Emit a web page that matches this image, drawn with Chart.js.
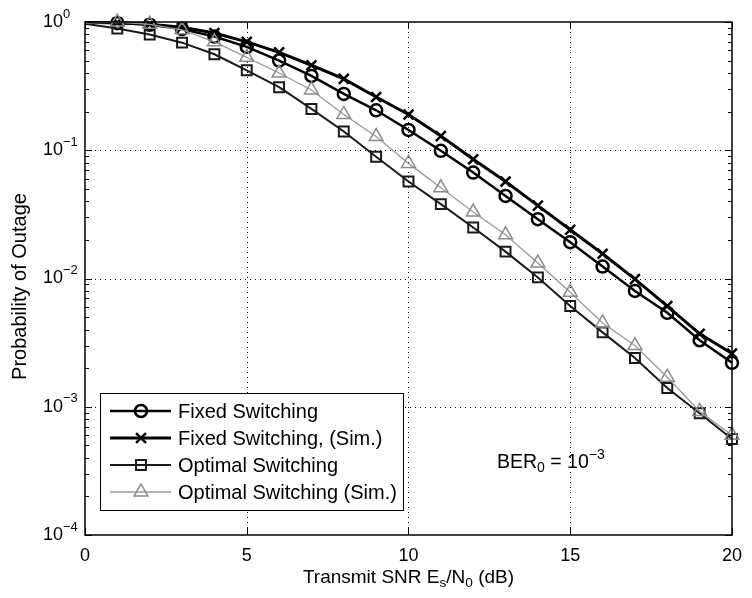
<!DOCTYPE html>
<html>
<head>
<meta charset="utf-8">
<script src="https://cdn.jsdelivr.net/npm/chart.js@4.4.0/dist/chart.umd.min.js"></script>
<style>
  html, body { margin: 0; padding: 0; background: #fff; }
</style>
</head>
<body>
<canvas id="outageChart" width="752" height="598"></canvas>
<script>
// values (x in dB, y = outage probability)
var snr = [0, 1, 2, 3, 4, 5, 6, 7, 8, 9, 10, 11, 12, 13, 14, 15, 16, 17, 18, 19, 20];
var fixedSwitching = [0.99, 0.98, 0.95, 0.88, 0.77, 0.64, 0.50, 0.38, 0.275, 0.205, 0.144, 0.099, 0.067, 0.044, 0.029, 0.0192, 0.0124, 0.0080, 0.0054, 0.0033, 0.0022];
var fixedSwitchingSim = [0.99, 0.99, 0.96, 0.91, 0.82, 0.70, 0.58, 0.46, 0.36, 0.26, 0.19, 0.129, 0.085, 0.057, 0.037, 0.024, 0.0156, 0.0099, 0.0061, 0.0037, 0.0026];
var optimalSwitching = [0.97, 0.89, 0.80, 0.69, 0.56, 0.42, 0.31, 0.21, 0.14, 0.089, 0.057, 0.038, 0.025, 0.0162, 0.0102, 0.0061, 0.0038, 0.0024, 0.0014, 0.00089, 0.00056];
var optimalSwitchingSim = [0.98, 1.0, 0.96, 0.87, 0.70, 0.53, 0.40, 0.295, 0.19, 0.128, 0.079, 0.051, 0.033, 0.0219, 0.0132, 0.0078, 0.0045, 0.0030, 0.0017, 0.00092, 0.00060];

var seriesLabels = ['Fixed Switching', 'Fixed Switching, (Sim.)', 'Optimal Switching', 'Optimal Switching (Sim.)'];
var xTicks = [0, 5, 10, 15, 20];
var yExponents = [0, -1, -2, -3, -4];

var FONT = '"Liberation Sans", Arial, sans-serif';

function toPoints(values) {
  return snr.map(function (x, i) { return { x: x, y: values[i] }; });
}

// hide the marker on the very first sample, as in the figure
function markerSize(r) {
  return function (ctx) { return ctx.dataIndex === 0 ? 0 : r; };
}

// text with a raised or lowered piece, left aligned; returns end x
function drawParts(ctx, parts, x, y, size) {
  parts.forEach(function (p) {
    var s = p.shift ? size * 0.72 : size;
    ctx.font = s + 'px ' + FONT;
    ctx.fillText(p.t, x, y + (p.shift || 0));
    x += ctx.measureText(p.t).width;
  });
  return x;
}

function partsWidth(ctx, parts, size) {
  var w = 0;
  parts.forEach(function (p) {
    ctx.font = (p.shift ? size * 0.72 : size) + 'px ' + FONT;
    w += ctx.measureText(p.t).width;
  });
  return w;
}

var matlabAxes = {
  id: 'matlabAxes',
  beforeDatasetsDraw: function (chart) {
    var ctx = chart.ctx, a = chart.chartArea;
    var xs = chart.scales.x, ys = chart.scales.y;
    ctx.save();
    ctx.strokeStyle = '#000';
    ctx.lineWidth = 1;
    ctx.setLineDash([1, 4]);
    ctx.beginPath();
    xTicks.slice(1, -1).forEach(function (v) {
      var px = Math.round(xs.getPixelForValue(v)) + 0.5;
      ctx.moveTo(px, a.top); ctx.lineTo(px, a.bottom);
    });
    yExponents.slice(1, -1).forEach(function (e) {
      var py = Math.round(ys.getPixelForValue(Math.pow(10, e))) + 0.5;
      ctx.moveTo(a.left, py); ctx.lineTo(a.right, py);
    });
    ctx.stroke();
    ctx.restore();
  },
  afterDraw: function (chart) {
    var ctx = chart.ctx, a = chart.chartArea;
    var xs = chart.scales.x, ys = chart.scales.y;
    ctx.save();
    ctx.strokeStyle = '#000';
    ctx.fillStyle = '#000';
    ctx.lineWidth = 1.5;
    ctx.strokeRect(a.left, a.top, a.right - a.left, a.bottom - a.top);

    // inward tick marks
    ctx.lineWidth = 1;
    ctx.beginPath();
    xTicks.forEach(function (v) {
      var px = Math.round(xs.getPixelForValue(v)) + 0.5;
      ctx.moveTo(px, a.bottom); ctx.lineTo(px, a.bottom - 7);
      ctx.moveTo(px, a.top); ctx.lineTo(px, a.top + 7);
    });
    yExponents.forEach(function (e) {
      for (var m = 1; m <= 9; m++) {
        var v = m * Math.pow(10, e);
        if (v > 1.0001 || v < 1e-4 * 0.999) continue;
        var py = Math.round(ys.getPixelForValue(v)) + 0.5;
        var len = m === 1 ? 7 : 4;
        ctx.moveTo(a.left, py); ctx.lineTo(a.left + len, py);
        ctx.moveTo(a.right, py); ctx.lineTo(a.right - len, py);
      }
    });
    ctx.stroke();

    // y tick labels 10^k
    ctx.textBaseline = 'middle';
    ctx.textAlign = 'left';
    yExponents.forEach(function (e) {
      var py = ys.getPixelForValue(Math.pow(10, e));
      drawParts(ctx, [{ t: '10' }, { t: e === 0 ? '0' : '\u2212' + (-e), shift: -8 }], 43, py, 18);
    });

    // axis titles
    var xTitle = [{ t: 'Transmit SNR E' }, { t: 's', shift: 5 }, { t: '/N' }, { t: '0', shift: 5 }, { t: ' (dB)' }];
    var w = partsWidth(ctx, xTitle, 19);
    drawParts(ctx, xTitle, (a.left + a.right) / 2 - w / 2, 578, 19);

    ctx.save();
    ctx.translate(20, (a.top + a.bottom) / 2 + 8);
    ctx.rotate(-Math.PI / 2);
    ctx.textAlign = 'center';
    ctx.font = '20px ' + FONT;
    ctx.fillText('Probability of Outage', 0, 0);
    ctx.restore();

    // annotation
    drawParts(ctx, [{ t: 'BER' }, { t: '0', shift: 5 }, { t: ' = 10' }, { t: '\u22123', shift: -8 }], 497, 463, 19.5);

    // legend
    var lx = 100, ly = 393, lw = 303, lh = 117;
    ctx.fillStyle = '#fff';
    ctx.fillRect(lx, ly, lw, lh);
    ctx.strokeStyle = '#000';
    ctx.lineWidth = 1;
    ctx.strokeRect(lx + 0.5, ly + 0.5, lw, lh);
    chart.data.datasets.forEach(function (ds, i) {
      var cy = 411 + i * 27;
      ctx.strokeStyle = ds.borderColor;
      ctx.lineWidth = ds.borderWidth;
      ctx.setLineDash([]);
      ctx.beginPath();
      ctx.moveTo(110, cy); ctx.lineTo(171, cy);
      ctx.stroke();
      ctx.strokeStyle = ds.pointBorderColor;
      ctx.fillStyle = 'rgba(0,0,0,0)';
      ctx.lineWidth = ds.pointBorderWidth;
      Chart.helpers.drawPoint(ctx, { pointStyle: ds.pointStyle, radius: ds.legendRadius, rotation: 0, borderWidth: ds.pointBorderWidth }, 141, cy);
      ctx.fillStyle = '#000';
      ctx.font = '20px ' + FONT;
      ctx.textBaseline = 'middle';
      ctx.fillText(ds.label, 178, cy + 1);
    });
    ctx.restore();
  }
};

var outageChart = new Chart(document.getElementById('outageChart').getContext('2d'), {
  type: 'line',
  data: {
    datasets: [{
      label: seriesLabels[0],
      data: toPoints(fixedSwitching),
      borderColor: '#000', borderWidth: 2.5,
      pointStyle: 'circle', pointRadius: markerSize(6), legendRadius: 6,
      pointBorderColor: '#000', pointBackgroundColor: 'rgba(0,0,0,0)', pointBorderWidth: 2.5,
      order: 3
    }, {
      label: seriesLabels[1],
      data: toPoints(fixedSwitchingSim),
      borderColor: '#000', borderWidth: 3,
      pointStyle: 'crossRot', pointRadius: markerSize(7), legendRadius: 7,
      pointBorderColor: '#000', pointBackgroundColor: 'rgba(0,0,0,0)', pointBorderWidth: 2.5,
      order: 2
    }, {
      label: seriesLabels[2],
      data: toPoints(optimalSwitching),
      borderColor: '#1a1a1a', borderWidth: 2,
      pointStyle: 'rect', pointRadius: markerSize(7), legendRadius: 7,
      pointBorderColor: '#1a1a1a', pointBackgroundColor: 'rgba(0,0,0,0)', pointBorderWidth: 2,
      order: 1
    }, {
      label: seriesLabels[3],
      data: toPoints(optimalSwitchingSim),
      borderColor: '#9a9a9a', borderWidth: 1.3,
      pointStyle: 'triangle', pointRadius: markerSize(8), legendRadius: 8,
      pointBorderColor: '#8c8c8c', pointBackgroundColor: 'rgba(0,0,0,0)', pointBorderWidth: 1.5,
      order: 0
    }]
  },
  options: {
    responsive: false,
    animation: false,
    events: [],
    devicePixelRatio: 1,
    layout: { padding: { top: 22, right: 14, left: 0, bottom: 0 } },
    datasets: { line: { clip: false, tension: 0, fill: false } },
    plugins: { legend: { display: false }, tooltip: { enabled: false } },
    scales: {
      x: {
        type: 'linear', min: 0, max: 20,
        ticks: {
          stepSize: 5, color: '#000', padding: 10,
          font: { family: FONT, size: 18 }
        },
        grid: { display: false, drawTicks: false },
        border: { display: false },
        afterFit: function (s) { s.height = 63; }
      },
      y: {
        type: 'logarithmic', min: 1e-4, max: 1,
        ticks: { display: false },
        grid: { display: false, drawTicks: false },
        border: { display: false },
        afterFit: function (s) { s.width = 85; }
      }
    }
  },
  plugins: [matlabAxes]
});
</script>
</body>
</html>
